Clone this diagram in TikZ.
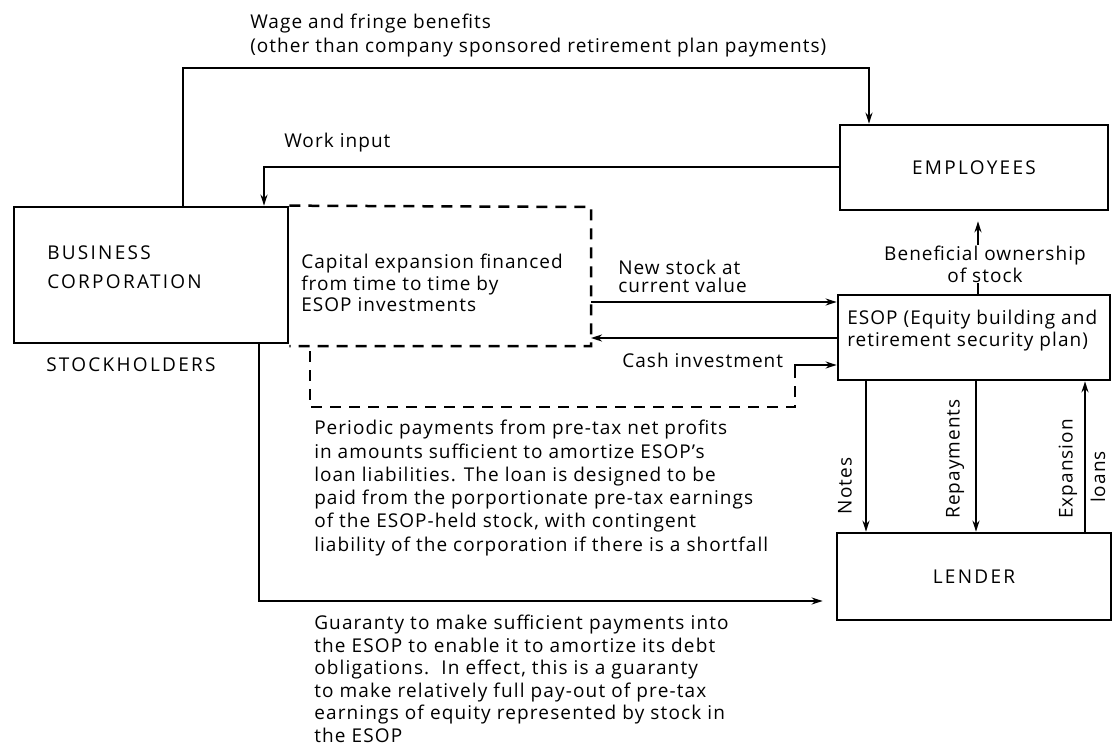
\documentclass[tikz,border=0pt]{standalone}
\usepackage{fontspec}
\setmainfont{Open Sans}
\usetikzlibrary{arrows.meta}
\newcommand\bodyfont{\fontsize{19}{22}\selectfont\addfontfeature{LetterSpace=5.5}}
\newcommand\capsfont{\fontsize{19}{22}\selectfont\addfontfeature{LetterSpace=12}}
\begin{document}
\begin{tikzpicture}[x=1pt,y=-1pt,
  line width=2.5pt,
  box/.style={draw, line width=2.7pt, inner sep=0pt, font=\capsfont},
  arr/.style={-{Stealth[length=11pt,width=7pt]}},
  dsh/.style={dash pattern=on 11pt off 8pt},
  lbl/.style={inner sep=0pt, anchor=west, align=left, font=\bodyfont},
  caps/.style={inner sep=0pt, anchor=west, align=left, font=\capsfont},
  rlbl/.style={inner sep=0pt, rotate=90, font=\bodyfont}
]
\useasboundingbox (0,0) rectangle (1114,749);
\fill[white] (0,0) rectangle (1114,749);

% boxes
\node[box, minimum width=274pt, minimum height=136pt] (bus) at (151,275) {};
\node[box, minimum width=268pt, minimum height=85pt] (emp) at (974,167.5) {EMPLOYEES};
\node[box, minimum width=272pt, minimum height=85pt] (esop) at (974,337.5) {};
\node[box, minimum width=274pt, minimum height=87pt] (lend) at (974,576.5) {LENDER};

% box texts
\node[caps, font=\fontsize{19}{29}\selectfont\addfontfeature{LetterSpace=12}] (bustxt) at (46,267) {BUSINESS\\CORPORATION};
\node[caps] (stock) at (45,365) {STOCKHOLDERS};
\node[lbl, font=\fontsize{19}{22}\selectfont\addfontfeature{LetterSpace=5.5}] (esoptxt) at (846,331) {ESOP (Equity building and\\retirement security plan)};

% wage and fringe benefits
\coordinate (w1) at (183,68);
\coordinate (w2) at (869,68);
\draw[arr] (bus.north -| w1) -- (w1) -- (w2) -- (w2 |- emp.north);
\node[lbl, font=\fontsize{19}{24}\selectfont\addfontfeature{LetterSpace=5.5}] (wage) at (249,36) {Wage and fringe benefits\\(other than company sponsored retirement plan payments)};

% work input
\coordinate (k1) at (264,167);
\draw[arr] (k1 -| emp.west) -- (k1) -- (k1 |- bus.north);
\node[lbl] (work) at (283,143) {Work input};

% upper dashed box
\coordinate (d1) at (591,207);
\coordinate (d2) at (591,346);
\draw[dsh] (bus.north east) -- (d1) -- (d2) -- (bus.south east |- d2);
\node[lbl, font=\fontsize{19}{21.5}\selectfont\addfontfeature{LetterSpace=5.5}] (capital) at (300,283) {Capital expansion financed\\from time to time by\\ESOP investments};

% new stock / cash
\coordinate (ns) at (591,302);
\draw[arr] (ns) -- (ns -| esop.west);
\node[lbl, font=\fontsize{19}{18}\selectfont\addfontfeature{LetterSpace=5.5}] (newstock) at (617,276) {New stock at\\current value};
\coordinate (ci) at (591,338);
\draw[arr] (ci -| esop.west) -- (ci);
\node[lbl] (cashinv) at (621,360) {Cash investment};

% lower dashed path
\coordinate (l1) at (310,351);
\coordinate (l2) at (310,407);
\coordinate (l3) at (795,407);
\coordinate (l4) at (795,376);
\coordinate (l5) at (795,365);
\draw[dsh] (l1) -- (l2) -- (l3) -- (l4);
\draw[arr] (l4) -- (l5) -- (l5 -| esop.west);
\node[lbl, font=\fontsize{19}{23.3}\selectfont\addfontfeature{LetterSpace=5.5}] (periodic) at (313,488) {Periodic payments from pre-tax net profits\\in amounts sufficient to amortize ESOP's\\loan liabilities. The loan is designed to be\\paid from the porportionate pre-tax earnings\\of the ESOP-held stock, with contingent\\liability of the corporation if there is a shortfall};

% guaranty
\coordinate (g1) at (259,601);
\draw[arr, shorten >=13pt] (bus.south -| g1) -- (g1) -- (g1 -| lend.west);
\node[lbl, font=\fontsize{19}{22.5}\selectfont\addfontfeature{LetterSpace=6}] (guaranty) at (313,679) {Guaranty to make sufficient payments into\\the ESOP to enable it to amortize its debt\\obligations.\ \ In effect, this is a guaranty\\to make relatively full pay-out of pre-tax\\earnings of equity represented by stock in\\the ESOP};

% beneficial ownership
\coordinate (bx) at (978,0);
\draw[arr, shorten >=10pt] (esop.north -| bx) -- (emp.south -| bx);
\node[lbl, anchor=center, align=center, fill=white, inner sep=1pt] (benef) at (985,264) {Beneficial ownership\\of stock};

% ESOP - lender
\coordinate (nx) at (866,0);
\coordinate (rx) at (976,0);
\coordinate (ex) at (1085,0);
\draw[arr] (esop.south -| nx) -- (lend.north -| nx);
\draw[arr] (esop.south -| rx) -- (lend.north -| rx);
\draw[arr] (lend.north -| ex) -- (esop.south -| ex);
\node[rlbl] (notes) at (845,486) {Notes};
\node[rlbl] (repay) at (955,459) {Repayments};
\node[rlbl] (expan) at (1068,469) {Expansion};
\node[rlbl] (loans) at (1098,477) {loans};
\end{tikzpicture}
\end{document}
